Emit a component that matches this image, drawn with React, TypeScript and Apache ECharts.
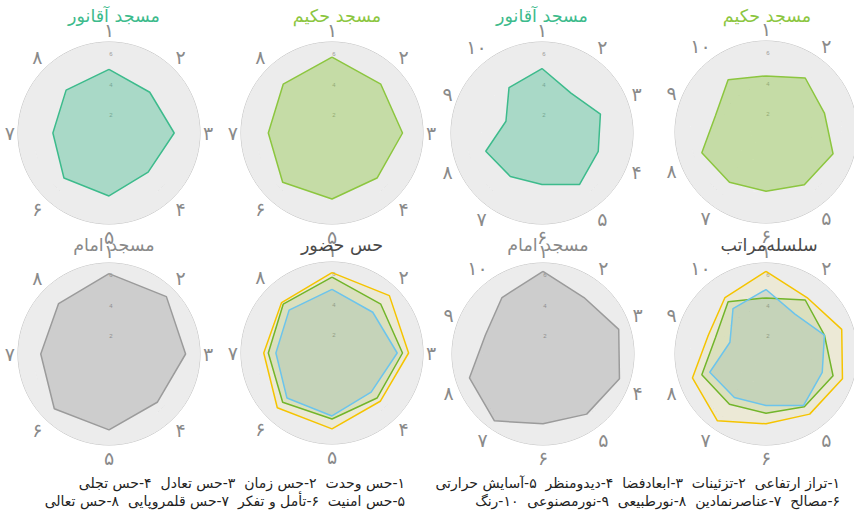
import React, { useEffect, useRef } from "react";
import * as echarts from "echarts";

// ---- data ----
const criteria8 = ["۱", "۲", "۳", "۴", "۵", "۶", "۷", "۸"];
const criteria10 = ["۱", "۲", "۳", "۴", "۵", "۶", "۷", "۸", "۹", "۱۰"];

const aghanour8 = [5.2, 4.8, 5.3, 4.65, 5.15, 5.2, 4.7, 5.0];
const hakim8 = [6.0, 5.55, 5.65, 5.2, 5.35, 5.6, 5.2, 5.55];
const imam8 = [6.3, 6.35, 6.05, 5.5, 6.0, 6.1, 5.5, 5.7];

const aghanour10 = [5.25, 4.25, 5.05, 4.9, 5.2, 4.4, 4.55, 4.9, 3.5, 4.7];
const hakim10 = [4.7, 5.4, 5.05, 5.65, 5.3, 4.9, 5.1, 5.45, 4.5, 5.25];
const imam10 = [6.45, 5.6, 6.25, 6.3, 5.9, 5.6, 6.45, 6.1, 5.0, 5.6];

const titles = ["مسجد آقانور", "مسجد حکیم", "مسجد آقانور", "مسجد حکیم", "مسجد امام", "حس حضور", "مسجد امام", "سلسله‌مراتب"];

const legend8 = [
  "۱-حس وحدت  ۲-حس زمان  ۳-حس تعادل  ۴-حس تجلی",
  "۵-حس امنیت  ۶-تأمل و تفکر  ۷-حس قلمروپایی  ۸-حس تعالی",
];
const legend10 = [
  "۱-تراز ارتفاعی  ۲-تزئینات  ۳-ابعادفضا  ۴-دیدومنظر  ۵-آسایش حرارتی",
  "۶-مصالح  ۷-عناصرنمادین  ۸-نورطبیعی  ۹-نورمصنوعی  ۱۰-رنگ",
];

const FONT = "'DejaVu Sans', 'Noto Sans', sans-serif";

const C_TEAL = "#3dbb8c";
const C_GREEN = "#8cc63f";
const C_GRAY = "#9b9b9b";
const C_YEL = "#f5c400";
const C_GRN2 = "#72b52a";
const C_BLUE = "#6cc4ec";

type S = { values: number[]; stroke: string; fill: string };

const TOP1 = 2;
const TOP2 = 231;

const panels: { cx: number; cy: number; cats: string[]; series: S[]; title: string; tcol: string; tx: number; ty: number }[] = [
  { cx: 109, cy: 133, cats: criteria8, title: titles[0], tcol: C_TEAL, tx: 109, ty: TOP1, series: [{ values: aghanour8, stroke: C_TEAL, fill: "rgba(61,187,140,0.38)" }] },
  { cx: 332, cy: 133, cats: criteria8, title: titles[1], tcol: C_GREEN, tx: 332, ty: TOP1, series: [{ values: hakim8, stroke: C_GREEN, fill: "rgba(140,198,63,0.4)" }] },
  { cx: 542, cy: 133, cats: criteria10, title: titles[2], tcol: C_TEAL, tx: 537, ty: TOP1, series: [{ values: aghanour10, stroke: C_TEAL, fill: "rgba(61,187,140,0.38)" }] },
  { cx: 766, cy: 132, cats: criteria10, title: titles[3], tcol: C_GREEN, tx: 762, ty: TOP1, series: [{ values: hakim10, stroke: C_GREEN, fill: "rgba(140,198,63,0.4)" }] },
  { cx: 109, cy: 354, cats: criteria8, title: titles[4], tcol: "#8a8a8a", tx: 109, ty: TOP2, series: [{ values: imam8, stroke: C_GRAY, fill: "rgba(110,110,110,0.25)" }] },
  {
    cx: 332, cy: 353, cats: criteria8, title: titles[5], tcol: "#4a4a4a", tx: 337, ty: TOP2,
    series: [
      { values: imam8, stroke: C_YEL, fill: "rgba(240,210,60,0.12)" },
      { values: hakim8, stroke: C_GRN2, fill: "rgba(120,170,50,0.14)" },
      { values: aghanour8, stroke: C_BLUE, fill: "rgba(90,140,160,0.16)" },
    ],
  },
  { cx: 543, cy: 354, cats: criteria10, title: titles[6], tcol: "#8a8a8a", tx: 543, ty: TOP2, series: [{ values: imam10, stroke: C_GRAY, fill: "rgba(110,110,110,0.25)" }] },
  {
    cx: 766, cy: 354, cats: criteria10, title: titles[7], tcol: "#4a4a4a", tx: 764, ty: TOP2,
    series: [
      { values: imam10, stroke: C_YEL, fill: "rgba(240,210,60,0.12)" },
      { values: hakim10, stroke: C_GRN2, fill: "rgba(120,170,50,0.14)" },
      { values: aghanour10, stroke: C_BLUE, fill: "rgba(90,140,160,0.16)" },
    ],
  },
];

const RTL = (s: string) => "\u202B" + s + "\u202C";

export default function App() {
  const ref = useRef<HTMLDivElement>(null);
  useEffect(() => {
    if (!ref.current) return;
    const chart = echarts.init(ref.current, undefined, { renderer: "svg" });
    const polar: any[] = [];
    const angleAxis: any[] = [];
    const radiusAxis: any[] = [];
    const series: any[] = [];
    const title: any[] = [];
    panels.forEach((p, i) => {
      const n = p.cats.length;
      polar.push({ center: [p.cx, p.cy], radius: [0, 91] });
      angleAxis.push({
        polarIndex: i,
        type: "value",
        min: 0,
        max: n,
        interval: 1,
        startAngle: 90,
        clockwise: true,
        axisLine: { show: true, lineStyle: { color: "#c2c2c2", width: 1 } },
        axisTick: { show: false },
        axisLabel: {
          show: true,
          margin: 3,
          fontSize: 19,
          color: "#8a8a8a",
          fontFamily: FONT,
          formatter: (v: number) => p.cats[Math.round(v) % n],
        },
        splitLine: { show: true, lineStyle: { color: "#b9b9b9", width: 0.8, type: [3, 2] } },
        splitArea: { show: false },
      });
      radiusAxis.push({
        polarIndex: i,
        type: "value",
        min: 1,
        max: 7,
        interval: 1,
        angle: 90,
        axisLine: { show: false },
        axisTick: { show: false },
        axisLabel: {
          show: true,
          fontSize: 6,
          color: "#999",
          margin: -2,
          align: "center",
          verticalAlign: "bottom",
          rotate: 0,
          formatter: (v: number) => (v % 2 === 0 && v < 7 ? String(v) : ""),
        },
        splitLine: { show: true, lineStyle: { color: ["rgba(0,0,0,0)", "#b3b3b3"], width: 0.9, type: [2, 2] } },
        splitArea: { show: true, areaStyle: { color: ["#ececec"] } },
        z: 1,
      });
      title.push({
        text: p.title,
        left: p.tx,
        top: p.ty,
        textAlign: "center",
        textStyle: { color: p.tcol, fontSize: 17.5, fontWeight: "normal", fontFamily: FONT },
      });
      p.series.forEach((s) => {
        const data = s.values.map((v, k) => [v, k]);
        data.push([s.values[0], n]);
        series.push({
          type: "line",
          coordinateSystem: "polar",
          polarIndex: i,
          data,
          symbol: "none",
          smooth: false,
          lineStyle: { color: s.stroke, width: 1.5 },
          itemStyle: { color: s.stroke },
          areaStyle: { color: s.fill, opacity: 1 },
          z: 3,
        });
      });
    });

    const legendText = (lines: string[], right: number) =>
      lines.map((t, k) => ({
        type: "text",
        x: right,
        y: 483 + k * 18,
        style: {
          text: RTL(t),
          fill: "#222",
          fontSize: 14,
          fontFamily: FONT,
          align: "right",
          verticalAlign: "middle",
        },
      }));

    chart.setOption({
      animation: false,
      backgroundColor: "#ffffff",
      title,
      polar,
      angleAxis,
      radiusAxis,
      series,
      graphic: [...legendText(legend8, 405), ...legendText(legend10, 840)],
    });
    return () => chart.dispose();
  }, []);
  return <div ref={ref} style={{ position: "fixed", left: 0, top: 0, width: 854, height: 514 }} />;
}
